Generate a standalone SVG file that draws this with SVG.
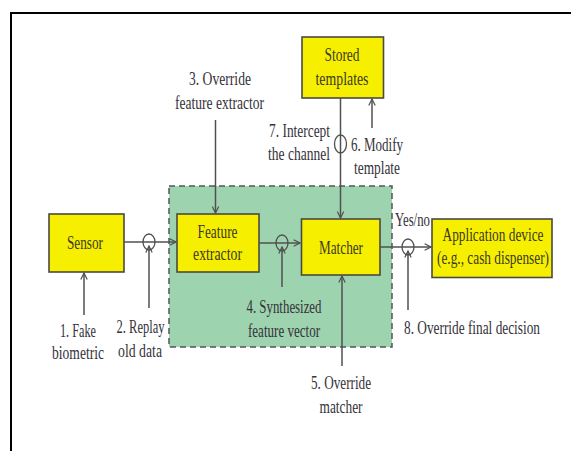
<svg xmlns="http://www.w3.org/2000/svg" width="571" height="451" viewBox="0 0 571 451">
<defs>
<style>
.box{fill:#f7ef00;stroke:#4a4a40;stroke-width:1.6}
.t{font-family:"Liberation Serif","Times New Roman",serif;font-size:19.5px;fill:#35323a}
.tb{font-family:"Liberation Serif","Times New Roman",serif;font-size:19.5px;fill:#3a3a20}
.c{fill:none;stroke:#505050;stroke-width:1.5}
.ring{fill:none;stroke:#505050;stroke-width:1.3}
</style>
<marker id="arr" viewBox="0 0 10 10" refX="9" refY="5" markerWidth="8" markerHeight="8" orient="auto" markerUnits="userSpaceOnUse">
<path d="M1,1 L9,5 L1,9" fill="none" stroke="#505050" stroke-width="1.5"/>
</marker>
</defs>
<rect x="0" y="0" width="571" height="451" fill="#ffffff"/>
<rect x="11" y="13" width="580" height="460" fill="none" stroke="#000" stroke-width="2"/>
<g id="region">
<rect x="169" y="186" width="223" height="161" fill="#9dd3ae" stroke="#555" stroke-width="1.5" stroke-dasharray="6,4"/>
</g>
<g id="sensor">
<rect class="box" x="49" y="214" width="75" height="58"/>
<text class="tb" transform="translate(85,249) scale(0.65,1)" text-anchor="middle" textLength="55.4" lengthAdjust="spacingAndGlyphs">Sensor</text>
</g>
<g id="feature">
<rect class="box" x="177" y="214" width="82" height="58"/>
<text class="tb" transform="translate(217.5,238) scale(0.65,1)" text-anchor="middle" textLength="61.5" lengthAdjust="spacingAndGlyphs">Feature</text>
<text class="tb" transform="translate(217.5,260) scale(0.65,1)" text-anchor="middle" textLength="75.4" lengthAdjust="spacingAndGlyphs">extractor</text>
</g>
<g id="matcher">
<rect class="box" x="301.5" y="219" width="78.5" height="56"/>
<text class="tb" transform="translate(341,254) scale(0.65,1)" text-anchor="middle" textLength="67.7" lengthAdjust="spacingAndGlyphs">Matcher</text>
</g>
<g id="stored">
<rect class="box" x="302" y="37" width="81.5" height="61"/>
<text class="tb" transform="translate(342,61) scale(0.65,1)" text-anchor="middle" textLength="53.8" lengthAdjust="spacingAndGlyphs">Stored</text>
<text class="tb" transform="translate(342,85) scale(0.65,1)" text-anchor="middle" textLength="81.5" lengthAdjust="spacingAndGlyphs">templates</text>
</g>
<g id="app">
<rect class="box" x="432" y="219" width="120" height="58.5"/>
<text class="tb" transform="translate(493,241) scale(0.65,1)" text-anchor="middle" textLength="155.4" lengthAdjust="spacingAndGlyphs">Application device</text>
<text class="tb" transform="translate(493,264) scale(0.65,1)" text-anchor="middle" textLength="172.3" lengthAdjust="spacingAndGlyphs">(e.g., cash dispenser)</text>
</g>
<g id="connectors">
<path class="c" d="M124,242 H176" marker-end="url(#arr)"/>
<path class="c" d="M259,243 H300" marker-end="url(#arr)"/>
<path class="c" d="M380,247 H431" marker-end="url(#arr)"/>
<path class="c" d="M340.5,98 V218" marker-end="url(#arr)"/>
<path class="c" d="M215.5,120 V213" marker-end="url(#arr)"/>
<path class="c" d="M372,128 V99" marker-end="url(#arr)"/>
<path class="c" d="M84,315 V273" marker-end="url(#arr)"/>
<path class="c" d="M149,308 V246" marker-end="url(#arr)"/>
<path class="c" d="M282,287 V247" marker-end="url(#arr)"/>
<path class="c" d="M342,366 V276" marker-end="url(#arr)"/>
<path class="c" d="M408,310 V251" marker-end="url(#arr)"/>
<ellipse class="ring" cx="149" cy="242" rx="6" ry="8"/>
<ellipse class="ring" cx="282" cy="243" rx="6" ry="8"/>
<ellipse class="ring" cx="408" cy="247" rx="6" ry="8"/>
<ellipse class="ring" cx="340.5" cy="144" rx="6" ry="9"/>
</g>
<g id="labels">
<text class="t" transform="translate(395,226) scale(0.65,1)" textLength="53.8" lengthAdjust="spacingAndGlyphs">Yes/no</text>
<text class="t" transform="translate(220,85) scale(0.65,1)" text-anchor="middle" textLength="95.4" lengthAdjust="spacingAndGlyphs">3. Override</text>
<text class="t" transform="translate(219.5,109) scale(0.65,1)" text-anchor="middle" textLength="136.9" lengthAdjust="spacingAndGlyphs">feature extractor</text>
<text class="t" transform="translate(330,137) scale(0.65,1)" text-anchor="end" textLength="93.8" lengthAdjust="spacingAndGlyphs">7. Intercept</text>
<text class="t" transform="translate(330,160) scale(0.65,1)" text-anchor="end" textLength="95.4" lengthAdjust="spacingAndGlyphs">the channel</text>
<text class="t" transform="translate(351,151) scale(0.65,1)" textLength="80" lengthAdjust="spacingAndGlyphs">6. Modify</text>
<text class="t" transform="translate(377,174) scale(0.65,1)" text-anchor="middle" textLength="70.8" lengthAdjust="spacingAndGlyphs">template</text>
<text class="t" transform="translate(284,313) scale(0.65,1)" text-anchor="middle" textLength="115.4" lengthAdjust="spacingAndGlyphs">4. Synthesized</text>
<text class="t" transform="translate(284,337) scale(0.65,1)" text-anchor="middle" textLength="110.8" lengthAdjust="spacingAndGlyphs">feature vector</text>
<text class="t" transform="translate(78,337) scale(0.65,1)" text-anchor="middle" textLength="55.4" lengthAdjust="spacingAndGlyphs">1. Fake</text>
<text class="t" transform="translate(78,359) scale(0.65,1)" text-anchor="middle" textLength="80" lengthAdjust="spacingAndGlyphs">biometric</text>
<text class="t" transform="translate(140.5,333) scale(0.65,1)" text-anchor="middle" textLength="73.8" lengthAdjust="spacingAndGlyphs">2. Replay</text>
<text class="t" transform="translate(140,357) scale(0.65,1)" text-anchor="middle" textLength="67.7" lengthAdjust="spacingAndGlyphs">old data</text>
<text class="t" transform="translate(404,334) scale(0.65,1)" textLength="209.2" lengthAdjust="spacingAndGlyphs">8. Override final decision</text>
<text class="t" transform="translate(341,389) scale(0.65,1)" text-anchor="middle" textLength="92.3" lengthAdjust="spacingAndGlyphs">5. Override</text>
<text class="t" transform="translate(341,413) scale(0.65,1)" text-anchor="middle" textLength="66.2" lengthAdjust="spacingAndGlyphs">matcher</text>
</g>
</svg>
